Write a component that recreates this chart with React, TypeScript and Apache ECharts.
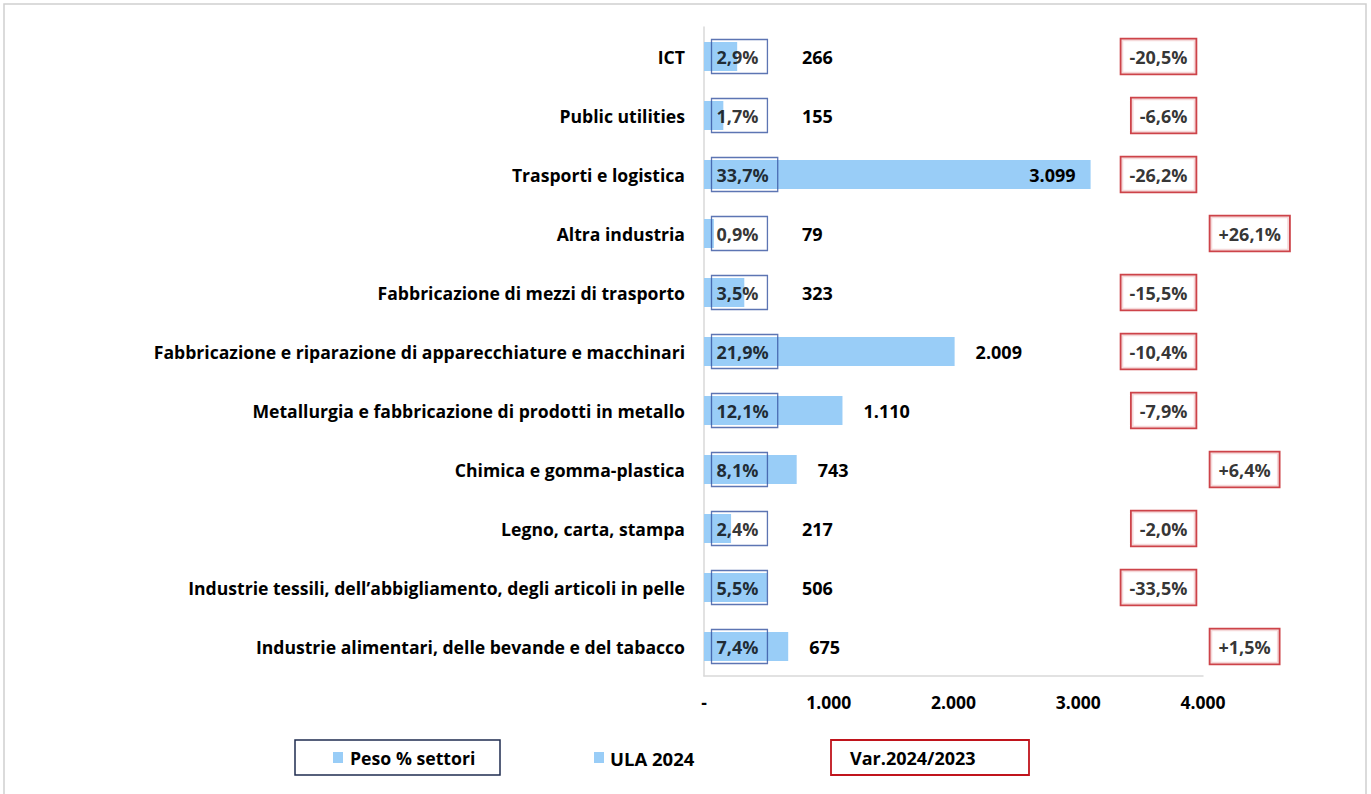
import React, { useEffect, useRef } from "react";
import * as echarts from "echarts";

const categories = [
  "ICT",
  "Public utilities",
  "Trasporti e logistica",
  "Altra industria",
  "Fabbricazione di mezzi di trasporto",
  "Fabbricazione e riparazione di apparecchiature e macchinari",
  "Metallurgia e fabbricazione di prodotti in metallo",
  "Chimica e gomma-plastica",
  "Legno, carta, stampa",
  "Industrie tessili, dell\u2019abbigliamento, degli articoli in pelle",
  "Industrie alimentari, delle bevande e del tabacco",
];
const ula2024 = [266, 155, 3099, 79, 323, 2009, 1110, 743, 217, 506, 675];
const pesoSettori = [2.9, 1.7, 33.7, 0.9, 3.5, 21.9, 12.1, 8.1, 2.4, 5.5, 7.4];
const var2024_2023 = [-20.5, -6.6, -26.2, 26.1, -15.5, -10.4, -7.9, 6.4, -2.0, -33.5, 1.5];
const xTicks = [0, 1000, 2000, 3000, 4000];

const FONT = "Open Sans";
const BAR = "#99CDF7";
const NAVY = "#3553A0";
const RED = "#C0141C";

const W = 1371;
const H = 794;
const GRID_LEFT = 704;
const GRID_RIGHT_PX = 1203;
const GRID_TOP = 27;
const GRID_BOTTOM_PX = 676;
const X_MAX = xTicks[xTicks.length - 1];

function fmtThousands(v: number): string {
  if (v === 0) return "-";
  return String(v).replace(/\B(?=(\d{3})+(?!\d))/g, ".");
}
function fmtPct(v: number, sign: boolean): string {
  const s = Math.abs(v).toFixed(1).replace(".", ",");
  if (sign) return (v < 0 ? "-" : "+") + s + "%";
  return s + "%";
}

export default function App() {
  const ref = useRef<HTMLDivElement>(null);
  useEffect(() => {
    document.body.style.margin = "0";
    if (!ref.current) return;
    const chart = echarts.init(ref.current, undefined, { renderer: "svg" });
    const plotW = GRID_RIGHT_PX - GRID_LEFT;
    const pxPer = plotW / X_MAX;

    const barData = ula2024.map((v) => {
      const barPx = v * pxPer;
      const inside = barPx > plotW * 0.7;
      return {
        value: v,
        label: inside
          ? { position: "insideRight", distance: 15 }
          : { position: "right", distance: Math.max(21, 98 - barPx) },
      };
    });

    const pesoData = pesoSettori.map((v, i) => ({
      value: [0, categories[i]],
      peso: v,
    }));

    const varData = var2024_2023.map((v, i) => ({
      value: [X_MAX, categories[i]],
      v,
      label: { position: v < 0 ? "left" : "right" },
    }));

    const textStyle = { fontFamily: FONT, fontWeight: "bold" as const, fontSize: 18, color: "#000" };

    chart.setOption({
      animation: false,
      backgroundColor: "#fff",
      textStyle: { fontFamily: FONT },
      grid: {
        left: GRID_LEFT,
        right: W - GRID_RIGHT_PX,
        top: GRID_TOP,
        bottom: H - GRID_BOTTOM_PX,
        containLabel: false,
      },
      xAxis: {
        type: "value",
        min: 0,
        max: X_MAX,
        interval: 1000,
        axisLine: { show: true, lineStyle: { color: "#d9d9d9", width: 1.5 } },
        axisTick: { show: false },
        splitLine: { show: false },
        axisLabel: {
          ...textStyle,
          fontSize: 17.5,
          margin: 17,
          formatter: (v: number) => fmtThousands(v),
        },
      },
      yAxis: {
        type: "category",
        data: categories,
        inverse: true,
        axisLine: { show: true, lineStyle: { color: "#d9d9d9", width: 1.5 } },
        axisTick: { show: false },
        axisLabel: { ...textStyle, fontSize: 17.6, margin: 19 },
      },
      series: [
        {
          name: "ULA 2024",
          type: "bar",
          data: barData,
          barWidth: 29,
          itemStyle: { color: BAR },
          label: {
            show: true,
            ...textStyle,
            formatter: (p: any) => fmtThousands(p.value),
          },
          z: 2,
        },
        {
          name: "Peso % settori",
          type: "scatter",
          data: pesoData,
          symbolSize: 1,
          itemStyle: { color: "rgba(0,0,0,0)" },
          label: {
            show: true,
            position: "right",
            distance: 7,
            ...textStyle,
            lineHeight: 22,
            padding: [6, 9, 6, 5],
            borderColor: NAVY,
            borderWidth: 1.3,
            formatter: (p: any) => fmtPct(p.data.peso, false),
          },
          z: 3,
        },
        {
          name: "Var.2024/2023",
          type: "scatter",
          data: varData,
          symbolSize: 1,
          itemStyle: { color: "rgba(0,0,0,0)" },
          label: {
            show: true,
            distance: 7,
            ...textStyle,
            padding: [6, 8, 6, 8],
            lineHeight: 22,
            borderColor: RED,
            borderWidth: 1.8,
            backgroundColor: "#fff",
            formatter: (p: any) => fmtPct(p.data.v, true),
          },
          z: 3,
        },
      ],
      graphic: [
        {
          type: "rect",
          shape: { x: 4, y: 4, width: 1362, height: 800 },
          style: { fill: "none", stroke: "#d0d0d0", lineWidth: 1.5 },
          silent: true,
        },
        {
          type: "rect",
          shape: { x: 295, y: 740, width: 205, height: 35 },
          style: { fill: "none", stroke: "#1F2D50", lineWidth: 1.5 },
        },
        {
          type: "rect",
          shape: { x: 333, y: 752, width: 10, height: 11 },
          style: { fill: BAR },
        },
        {
          type: "text",
          x: 350,
          y: 758,
          style: { text: "Peso % settori", fill: "#000", font: `bold 17.7px ${FONT}`, verticalAlign: "middle" },
        },
        {
          type: "rect",
          shape: { x: 594, y: 752, width: 10, height: 11 },
          style: { fill: BAR },
        },
        {
          type: "text",
          x: 610,
          y: 758,
          style: { text: "ULA 2024", fill: "#000", font: `bold 18.5px ${FONT}`, verticalAlign: "middle" },
        },
        {
          type: "rect",
          shape: { x: 831, y: 740, width: 198, height: 35 },
          style: { fill: "none", stroke: RED, lineWidth: 1.8 },
        },
        {
          type: "text",
          x: 850,
          y: 758,
          style: { text: "Var.2024/2023", fill: "#000", font: `bold 18px ${FONT}`, verticalAlign: "middle" },
        },
      ],
    });
    return () => chart.dispose();
  }, []);
  return <div ref={ref} style={{ width: W, height: H }} />;
}
